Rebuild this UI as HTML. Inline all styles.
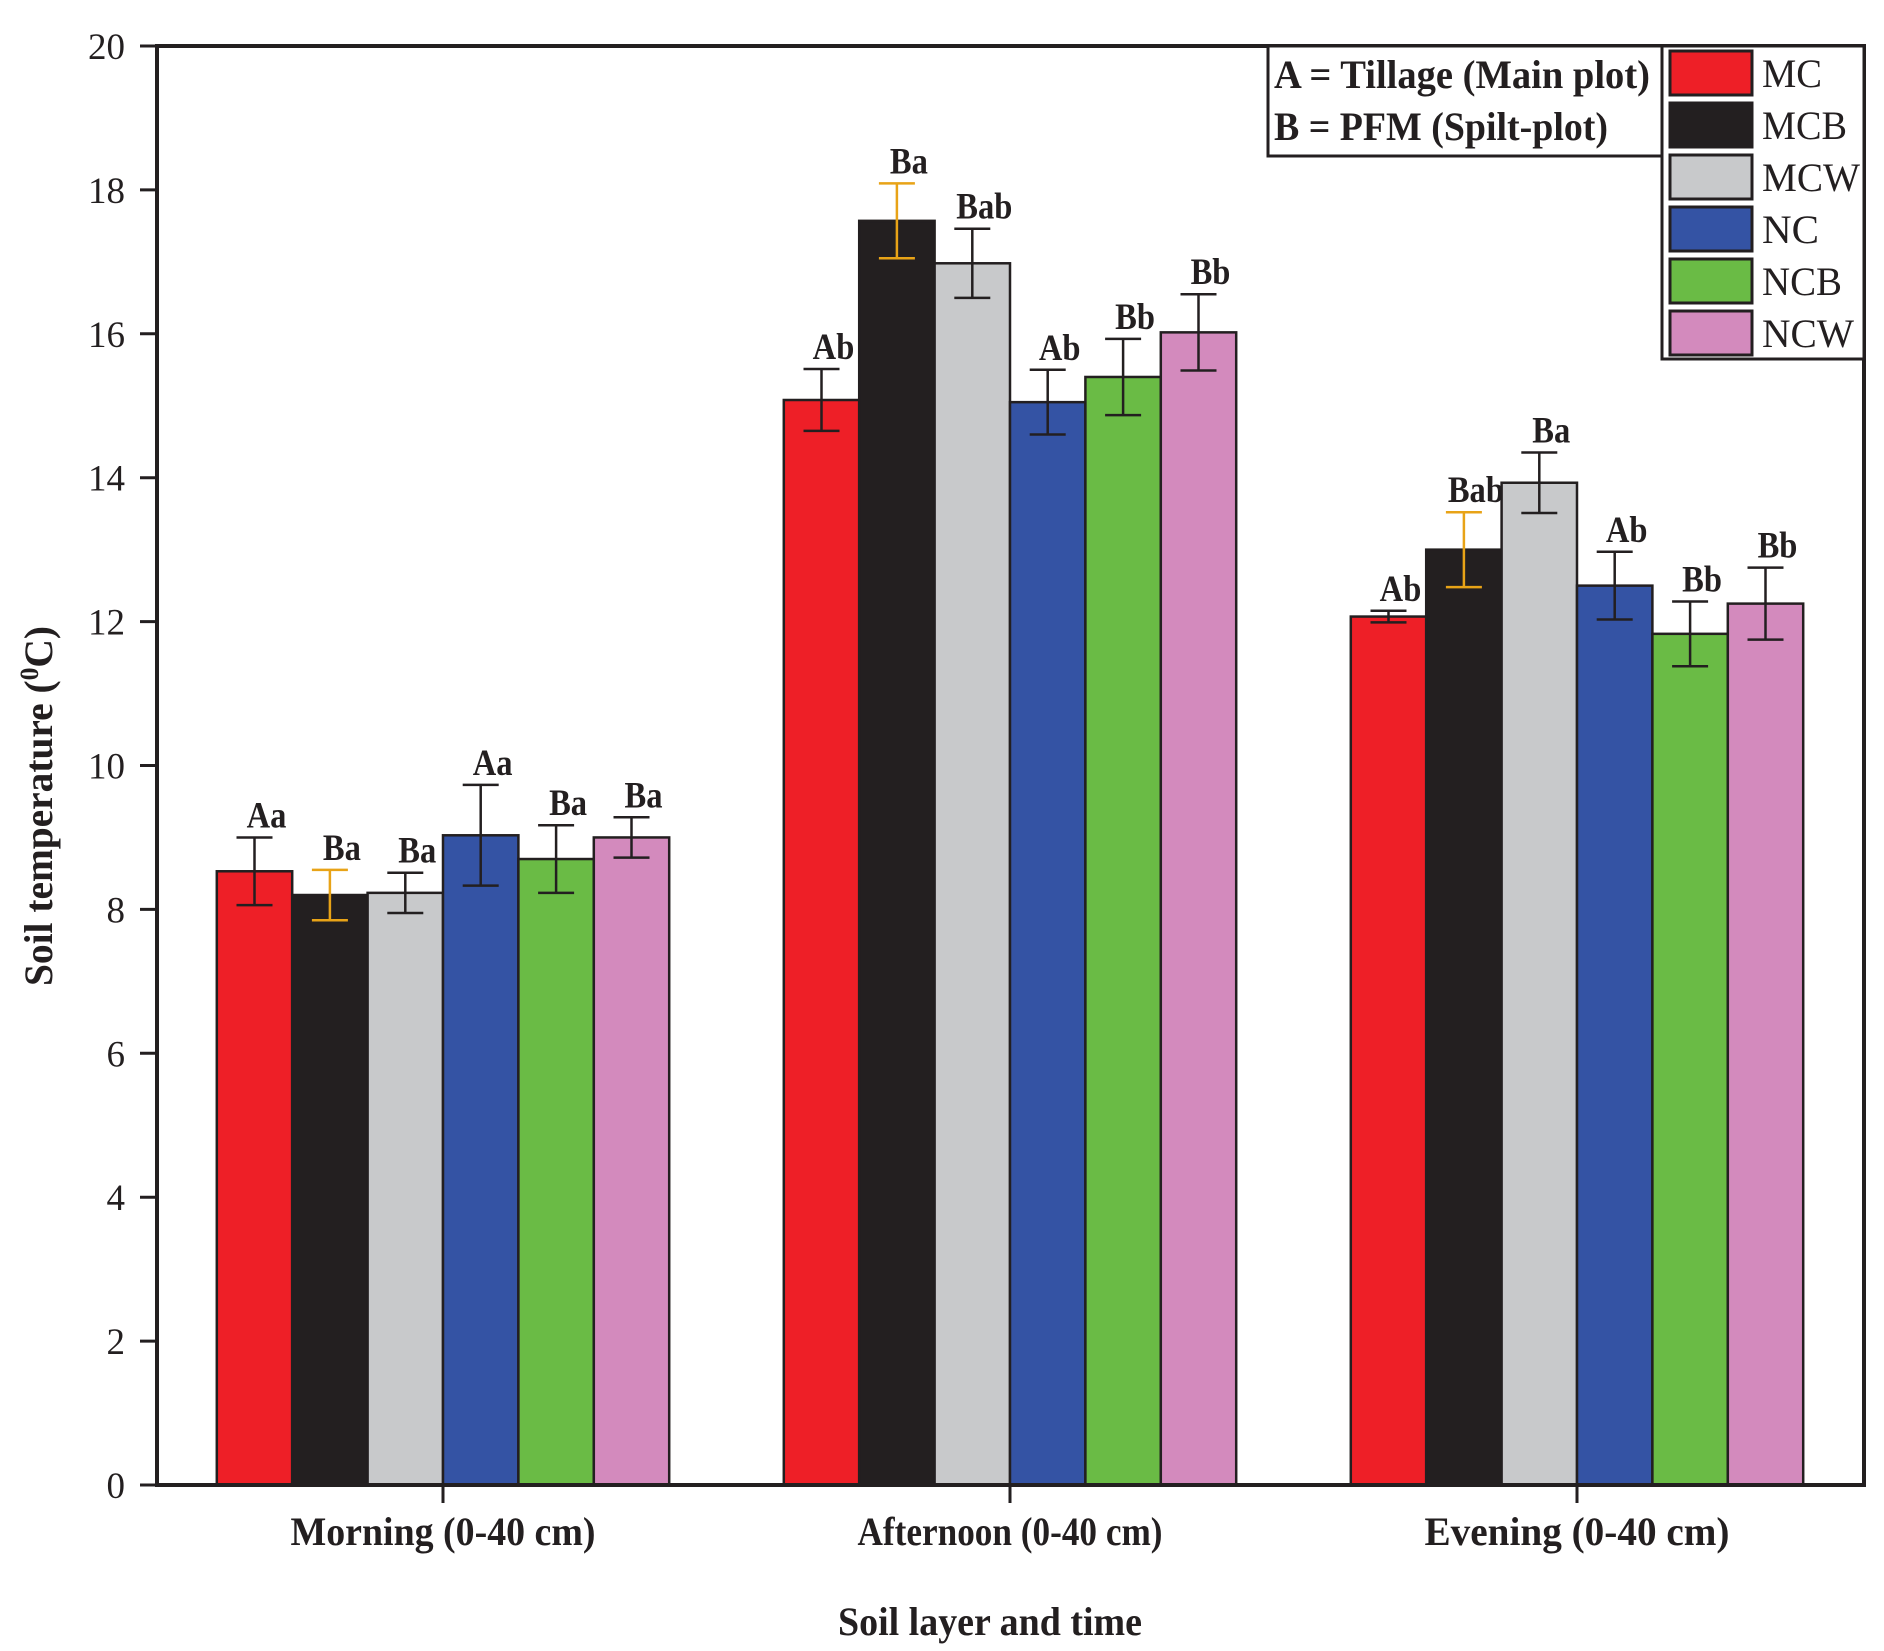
<!DOCTYPE html>
<html><head><meta charset="utf-8"><style>
html,body{margin:0;padding:0;background:#fff;}
svg{display:block;font-family:"Liberation Serif","DejaVu Serif",serif;}
</style></head><body>
<svg id="chart" width="1884" height="1651" viewBox="0 0 1884 1651">
<g id="bars"></g><g id="axes"></g><g id="legend"></g>
</svg>
<script>
const categories=["Morning (0-40 cm)","Afternoon (0-40 cm)","Evening (0-40 cm)"];
const seriesNames=["MC","MCB","MCW","NC","NCB","NCW"];
const colors=["#ee1f27","#231f20","#c8c9cb","#3453a4","#6abb45","#d38abd"];
const valMC=[8.53,15.08,12.07];
const valMCB=[8.2,17.57,13.0];
const valMCW=[8.23,16.98,13.93];
const valNC=[9.03,15.05,12.5];
const valNCB=[8.7,15.4,11.83];
const valNCW=[9.0,16.02,12.25];
const errMC=[0.47,0.43,0.08];
const errMCB=[0.35,0.52,0.52];
const errMCW=[0.28,0.48,0.42];
const errNC=[0.7,0.45,0.47];
const errNCB=[0.47,0.53,0.45];
const errNCW=[0.28,0.53,0.5];
const lblMC=["Aa","Ab","Ab"];
const lblMCB=["Ba","Ba","Bab"];
const lblMCW=["Ba","Bab","Ba"];
const lblNC=["Aa","Ab","Ab"];
const lblNCB=["Ba","Bb","Bb"];
const lblNCW=["Ba","Bb","Bb"];
const yTicks=[0,2,4,6,8,10,12,14,16,18,20];

const vals=[valMC,valMCB,valMCW,valNC,valNCB,valNCW];
const errs=[errMC,errMCB,errMCW,errNC,errNCB,errNCW];
const lbls=[lblMC,lblMCB,lblMCW,lblNC,lblNCB,lblNCW];
const X0=157,X1=1864,Y0=1485,Y1=46;
const y=v=>Y0-(v/20)*(Y0-Y1);
const cx=i=>443+i*567;
const BW=75.4;
const NS="http://www.w3.org/2000/svg";
function mk(tag,attrs,parent,text){const e=document.createElementNS(NS,tag);for(const k in attrs)e.setAttribute(k,attrs[k]);if(text!==undefined)e.textContent=text;parent.appendChild(e);return e;}
const gb=document.getElementById('bars'),ga=document.getElementById('axes'),gl=document.getElementById('legend');
categories.forEach((c,i)=>{
  seriesNames.forEach((s,j)=>{
    const v=vals[j][i],e=errs[j][i];
    const x=cx(i)+(j-3)*BW;
    const r=mk('rect',{x:x,y:y(v),width:BW,height:Y0-y(v),fill:colors[j],stroke:"#231f20","stroke-width":2.5},gb);
    
    
    const ec=(j===1)?"#e8a317":"#231f20";
    const m=x+BW/2;
    const eg=mk('g',{stroke:ec,"stroke-width":2.5},gb);
    
    
    mk('line',{x1:m,x2:m,y1:y(v+e),y2:y(v-e)},eg);
    mk('line',{x1:m-18,x2:m+18,y1:y(v+e),y2:y(v+e)},eg);
    mk('line',{x1:m-18,x2:m+18,y1:y(v-e),y2:y(v-e)},eg);
    const t=mk('text',{x:m+12,y:y(v+e)-10,"text-anchor":"middle","font-size":37,"font-weight":"bold",fill:"#231f20",transform:"scale(0.88,1)"},gb,lbls[j][i]);
    t.setAttribute('x',(m+12)/0.88);
    
    
  });
  const tk=mk('line',{x1:cx(i),x2:cx(i),y1:Y0,y2:Y0+18,stroke:"#231f20","stroke-width":3},ga);
  
  
  const tl=mk('text',{x:cx(i),y:1545,"text-anchor":"middle","font-size":40,"font-weight":"bold",fill:"#231f20",textLength:305,lengthAdjust:"spacingAndGlyphs"},ga,c);
  
  
});
yTicks.forEach(t=>{
  const l=mk('line',{x1:X0-17,x2:X0,y1:y(t),y2:y(t),stroke:"#231f20","stroke-width":3},ga);
  
  
  const tx=mk('text',{x:125,y:y(t)+13,"text-anchor":"end","font-size":37,fill:"#231f20"},ga,String(t));
  
  
});
const frame=mk('rect',{x:X0,y:Y1,width:X1-X0,height:Y0-Y1,fill:"none",stroke:"#231f20","stroke-width":4},ga);


const xt=mk('text',{x:990,y:1635,"text-anchor":"middle","font-size":40,"font-weight":"bold",fill:"#231f20",textLength:304,lengthAdjust:"spacingAndGlyphs"},ga,"Soil layer and time");


const yt=mk('text',{transform:"translate(52,806) rotate(-90)","text-anchor":"middle","font-size":40,"font-weight":"bold",fill:"#231f20",textLength:360,lengthAdjust:"spacingAndGlyphs"},ga);


yt.appendChild(document.createTextNode("Soil temperature ("));
mk('tspan',{"font-size":26,dy:-14},yt,"0");
mk('tspan',{dy:14},yt,"C)");
// note box
const nb=mk('rect',{x:1268,y:46,width:394,height:110,fill:"#fff",stroke:"#231f20","stroke-width":3},gl);


const n1=mk('text',{x:1274,y:88,"font-size":40,"font-weight":"bold",fill:"#231f20",textLength:376,lengthAdjust:"spacingAndGlyphs"},gl,"A = Tillage (Main plot)");


const n2=mk('text',{x:1274,y:140,"font-size":40,"font-weight":"bold",fill:"#231f20",textLength:334,lengthAdjust:"spacingAndGlyphs"},gl,"B = PFM (Spilt-plot)");


const lb=mk('rect',{x:1662,y:46,width:202,height:313,fill:"#fff",stroke:"#231f20","stroke-width":3},gl);


const lw=[60,85,98,57,80,92];
seriesNames.forEach((s,j)=>{
  const cy=73+j*52;
  const g=mk('g',{},gl);
  
  
  mk('rect',{x:1670,y:cy-22,width:82,height:44,fill:colors[j],stroke:"#231f20","stroke-width":3},g);
  mk('text',{x:1762,y:cy+14,"font-size":40,fill:"#231f20",textLength:lw[j],lengthAdjust:"spacingAndGlyphs"},g,s);
});
</script>
</body></html>
